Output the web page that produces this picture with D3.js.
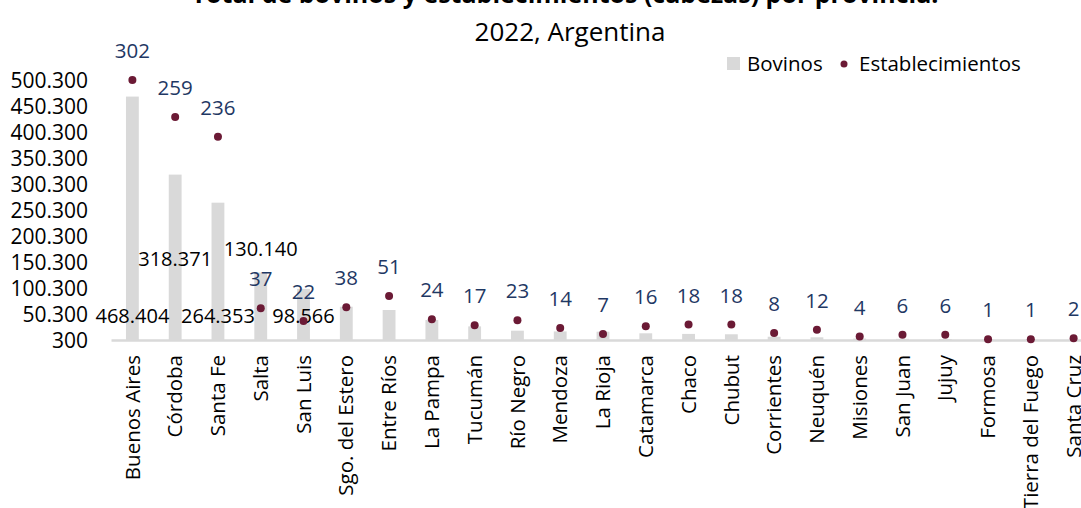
<!DOCTYPE html>
<html>
<head>
<meta charset="utf-8">
<script src="https://cdn.jsdelivr.net/npm/d3@7"></script>
<style>
  html, body { margin: 0; padding: 0; background: #fff; }
  svg { display: block; font-family: "Open Sans", sans-serif; }
</style>
</head>
<body>
<svg id="chart" width="1081" height="508"></svg>
<script>
// ---- data ----
const provincias = ["Buenos Aires","Córdoba","Santa Fe","Salta","San Luis","Sgo. del Estero","Entre Ríos","La Pampa","Tucumán","Río Negro","Mendoza","La Rioja","Catamarca","Chaco","Chubut","Corrientes","Neuquén","Misiones","San Juan","Jujuy","Formosa","Tierra del Fuego","Santa Cruz"];
const bovinos = [468404, 318371, 264353, 130140, 98566, 64300, 58000, 38800, 26500, 18200, 16800, 16300, 13200, 12000, 11300, 6600, 5500, 3000, 2500, 2000, 800, 500, 400];
const establecimientos = [302, 259, 236, 37, 22, 38, 51, 24, 17, 23, 14, 7, 16, 18, 18, 8, 12, 4, 6, 6, 1, 1, 2];
const bovinosLabeled = ["468.404", "318.371", "264.353", "130.140", "98.566"];
const yTicks = [300, 50300, 100300, 150300, 200300, 250300, 300300, 350300, 400300, 450300, 500300];
const titleLines = ["Total de bovinos y establecimientos (cabezas) por provincia.", "2022, Argentina"];
const legendNames = ["Bovinos", "Establecimientos"];

// ---- layout ----
const L = { x0: 111, x1: 1095, yBase: 340, yTop: 80 };
const bovLabelY = [316, 259, 316, 249, 316];
const colors = { bar: "#d9d9d9", dot: "#6b1a35", estLabel: "#1f3864", text: "#000" };

const svg = d3.select("#chart");
const fmt = d3.formatLocale({ decimal: ",", thousands: ".", grouping: [3], currency: ["$", ""] }).format(",");

const x = d3.scaleBand().domain(provincias).range([L.x0, L.x1]).paddingInner(0).paddingOuter(0);
const y = d3.scaleLinear().domain([300, 500300]).range([L.yBase, L.yTop]);
const y2 = d3.scaleLinear().domain([0, 302]).range([L.yBase, L.yTop]);
const barW = x.bandwidth() * 0.3;

// title
svg.append("text").attr("x", 565).attr("y", 3).attr("text-anchor", "middle")
  .attr("font-size", 25).attr("font-weight", "bold").attr("fill", colors.text).text(titleLines[0]);
svg.append("text").attr("x", 570).attr("y", 41).attr("text-anchor", "middle")
  .attr("font-size", 26).attr("fill", colors.text).text(titleLines[1]);

// bars
svg.append("g").selectAll("rect").data(bovinos).join("rect")
  .attr("x", (d, i) => x(provincias[i]) + x.bandwidth() / 2 - barW / 2)
  .attr("y", d => y(d))
  .attr("width", barW)
  .attr("height", d => L.yBase - y(d))
  .attr("fill", colors.bar);

// x axis line
const xAxis = d3.axisBottom(x).tickSize(0).tickPadding(0);
const gx = svg.append("g").attr("transform", `translate(0,${L.yBase})`).call(xAxis);
gx.select(".domain").attr("stroke", colors.bar).attr("stroke-width", 2.5);
gx.selectAll(".tick text")
  .attr("font-size", 20.5)
  .attr("font-family", "Open Sans, sans-serif")
  .attr("fill", colors.text)
  .attr("text-anchor", "end")
  .attr("transform", "rotate(-90)")
  .attr("x", -15).attr("y", 0).attr("dy", "0.35em");

// y axis
const yAxis = d3.axisLeft(y).tickValues(yTicks).tickSize(0).tickPadding(0).tickFormat(d => fmt(d));
const gy = svg.append("g").attr("transform", `translate(88,0)`).call(yAxis);
gy.select(".domain").remove();
gy.selectAll(".tick text").attr("font-size", 21).attr("font-family", "Open Sans, sans-serif")
  .attr("fill", colors.text).attr("dy", "0.35em");

// bovinos labels (only first five shown)
svg.append("g").selectAll("text").data(bovinosLabeled).join("text")
  .attr("x", (d, i) => x(provincias[i]) + x.bandwidth() / 2)
  .attr("y", (d, i) => bovLabelY[i])
  .attr("dy", "0.35em")
  .attr("text-anchor", "middle")
  .attr("font-size", 20)
  .attr("fill", colors.text)
  .text(d => d);

// dots
svg.append("g").selectAll("circle").data(establecimientos).join("circle")
  .attr("cx", (d, i) => x(provincias[i]) + x.bandwidth() / 2)
  .attr("cy", d => y2(d))
  .attr("r", 4)
  .attr("fill", colors.dot);

// establecimientos labels
svg.append("g").selectAll("text").data(establecimientos).join("text")
  .attr("x", (d, i) => x(provincias[i]) + x.bandwidth() / 2)
  .attr("y", d => y2(d) - 22)
  .attr("text-anchor", "middle")
  .attr("font-size", 20.5)
  .attr("fill", colors.estLabel)
  .text(d => d);

// legend
const lg = svg.append("g");
lg.append("rect").attr("x", 727).attr("y", 57).attr("width", 13).attr("height", 13).attr("fill", colors.bar);
lg.append("text").attr("x", 747).attr("y", 64).attr("dy", "0.35em").attr("font-size", 20.5).attr("fill", colors.text).text(legendNames[0]);
lg.append("circle").attr("cx", 844).attr("cy", 64).attr("r", 3.5).attr("fill", colors.dot);
lg.append("text").attr("x", 859).attr("y", 64).attr("dy", "0.35em").attr("font-size", 20.5).attr("fill", colors.text).text(legendNames[1]);
</script>
</body>
</html>
